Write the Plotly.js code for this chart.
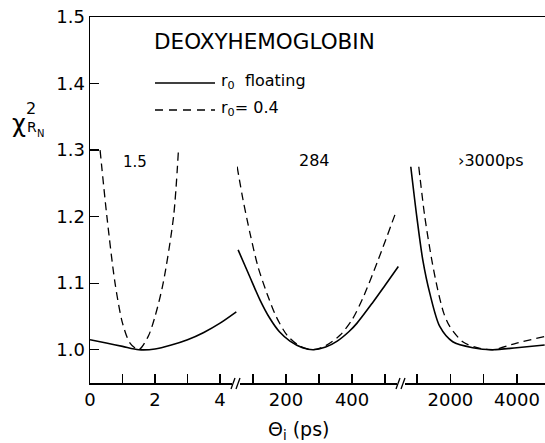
<!DOCTYPE html>
<html>
<head>
<meta charset="utf-8">
<script src="https://cdn.plot.ly/plotly-3.0.1.min.js"></script>
<style>html,body{margin:0;padding:0;background:#fff;}#chart{width:545px;height:443px;}</style>
</head>
<body>
<div id="chart"></div>
<script>
// Panel 1 (Theta in ps, 0-4.5)
var p1SolidX = [0, 0.5, 1.0, 1.5, 2.0, 2.5, 3.0, 3.5, 4.0, 4.5];
var p1SolidY = [1.015, 1.010, 1.005, 1.000, 1.001, 1.007, 1.015, 1.026, 1.040, 1.057];
var p1DashX = [0.31, 0.52, 0.77, 1.0, 1.23, 1.5, 1.79, 2.0, 2.25, 2.57, 2.72];
var p1DashY = [1.30, 1.20, 1.10, 1.04, 1.01, 1.00, 1.02, 1.05, 1.10, 1.20, 1.30];
// Panel 2 (50-550 ps)
var p2SolidX = [55, 90, 121, 150, 180, 212, 250, 282, 320, 355, 390, 415, 461, 500, 540];
var p2SolidY = [1.150, 1.110, 1.075, 1.048, 1.027, 1.013, 1.003, 1.000, 1.004, 1.013, 1.027, 1.040, 1.070, 1.097, 1.125];
var p2DashX = [52, 70, 91, 115, 142, 170, 203, 240, 282, 320, 364, 400, 433, 479, 535];
var p2DashY = [1.275, 1.225, 1.175, 1.125, 1.085, 1.050, 1.022, 1.006, 1.000, 1.006, 1.022, 1.045, 1.078, 1.135, 1.210];
// Panel 3 (550-4840 ps)
var p3SolidX = [810, 990, 1170, 1380, 1680, 2070, 2670, 3270, 3990, 4830];
var p3SolidY = [1.275, 1.200, 1.135, 1.085, 1.035, 1.012, 1.003, 1.000, 1.003, 1.007];
var p3DashX = [1050, 1230, 1440, 1620, 1800, 1980, 2370, 2800, 3270, 3990, 4830];
var p3DashY = [1.275, 1.200, 1.135, 1.090, 1.055, 1.035, 1.012, 1.003, 1.000, 1.010, 1.020];
// Tick labels (major = labelled, minor = unlabelled)
var x1Major = [0, 2, 4];
var x1Minor = [1, 3];
var x2Major = [200, 400];
var x2Minor = [100, 300, 500];
var x3Major = [2000, 4000];
var x3Minor = [1000, 3000];
var yTicks = [1.0, 1.1, 1.2, 1.3, 1.4, 1.5];
var yText = ["1.0", "1.1", "1.2", "1.3", "1.4", "1.5"];
var panelLabels = ["1.5", "284", "\u203a3000ps"];

var FONT = "DejaVu Sans, sans-serif";
var solid = {color: "#000", width: 1.6};
var dashed = {color: "#000", width: 1.3, dash: "8px,5px"};

var traces = [
  {x: p1SolidX, y: p1SolidY, xaxis: "x", yaxis: "y", mode: "lines", line: solid},
  {x: p1DashX, y: p1DashY, xaxis: "x", yaxis: "y", mode: "lines", line: dashed},
  {x: p2SolidX, y: p2SolidY, xaxis: "x2", yaxis: "y", mode: "lines", line: solid},
  {x: p2DashX, y: p2DashY, xaxis: "x2", yaxis: "y", mode: "lines", line: dashed},
  {x: p3SolidX, y: p3SolidY, xaxis: "x3", yaxis: "y", mode: "lines", line: solid},
  {x: p3DashX, y: p3DashY, xaxis: "x3", yaxis: "y", mode: "lines", line: dashed}
];
traces.forEach(function(t){ t.line = Object.assign({}, t.line, {shape: "spline", smoothing: 0.8}); t.showlegend = false; t.hoverinfo = "skip"; });

function xax(domain, range, major, minor) {
  return {domain: domain, range: range, tickmode: "array", tickvals: major,
    ticktext: major.map(String),
    ticks: "inside", ticklen: 9, tickwidth: 1.3, tickcolor: "#000",
    minor: {tickmode: "array", tickvals: minor, ticks: "inside", ticklen: 9, tickwidth: 1.3, tickcolor: "#000", showgrid: false},
    showline: true, linecolor: "#000", linewidth: 1.5, mirror: true,
    showgrid: false, zeroline: false, anchor: "y",
    tickfont: {family: FONT, size: 18, color: "#000"}};
}

// pixel -> paper helpers (plot area: x 90..545, y 17..383)
function px(v){ return (v - 90) / 455; }
function py(v){ return (383 - v) / 366; }

var ann = [];
function addText(text, x, y, size, xa, ya) {
  ann.push({text: text, xref: "paper", yref: "paper", x: px(x), y: py(y), showarrow: false,
    xanchor: xa || "center", yanchor: ya || "middle", font: {family: FONT, size: size, color: "#000"}});
}
addText("DEOXYHEMOGLOBIN", 152, 42, 21.5, "left");
addText("r<sub>0</sub>  floating", 219, 82, 16, "left");
addText("r<sub>0</sub>= 0.4", 219, 108, 16, "left");
addText(panelLabels[0], 135, 162, 15);
addText(panelLabels[1], 314, 160, 16);
addText(panelLabels[2], 456, 160, 16, "left");
addText("\u0398<sub>i</sub> (ps)", 299, 430, 19);
addText("\u03c7", 19, 124, 24);
addText("2", 31, 108, 16);
addText("R", 32, 127, 14);
addText("N", 40, 133, 10);

var shapes = [
  {type: "line", xref: "paper", yref: "paper", x0: px(155), x1: px(215), y0: py(83), y1: py(83), line: {color: "#000", width: 1.5}},
  {type: "line", xref: "paper", yref: "paper", x0: px(155), x1: px(215), y0: py(110), y1: py(110), line: {color: "#000", width: 1.3, dash: "8px,6px"}}
];
// axis break marks
[236, 401].forEach(function(bx){
  shapes.push({type: "rect", xref: "paper", yref: "paper", x0: px(bx - 4), x1: px(bx + 4), y0: py(385), y1: py(381), fillcolor: "#fff", line: {width: 0}, layer: "above"});
  shapes.push({type: "line", xref: "paper", yref: "paper", x0: px(bx - 5), x1: px(bx - 1), y0: py(389), y1: py(378), line: {color: "#000", width: 1.3}, layer: "above"});
  shapes.push({type: "line", xref: "paper", yref: "paper", x0: px(bx + 0), x1: px(bx + 4), y0: py(389), y1: py(378), line: {color: "#000", width: 1.3}, layer: "above"});
});

var layout = {
  width: 545, height: 443,
  margin: {l: 90, r: 0, t: 17, b: 60, pad: 0},
  paper_bgcolor: "#fff", plot_bgcolor: "#fff",
  showlegend: false,
  xaxis: xax([0, 0.323], [0, 4.52], x1Major, x1Minor),
  xaxis2: xax([0.323, 0.686], [51.5, 551.5], x2Major, x2Minor),
  xaxis3: xax([0.686, 1], [550, 4840], x3Major, x3Minor),
  yaxis: {range: [0.95, 1.5], tickmode: "array", tickvals: yTicks, ticktext: yText,
    ticks: "inside", ticklen: 9, tickwidth: 1.3, tickcolor: "#000",
    showline: true, linecolor: "#000", linewidth: 1.5, showgrid: false, zeroline: false,
    tickfont: {family: FONT, size: 18, color: "#000"}},
  annotations: ann,
  shapes: shapes
};

Plotly.newPlot("chart", traces, layout, {displayModeBar: false, staticPlot: true});
</script>
</body>
</html>
